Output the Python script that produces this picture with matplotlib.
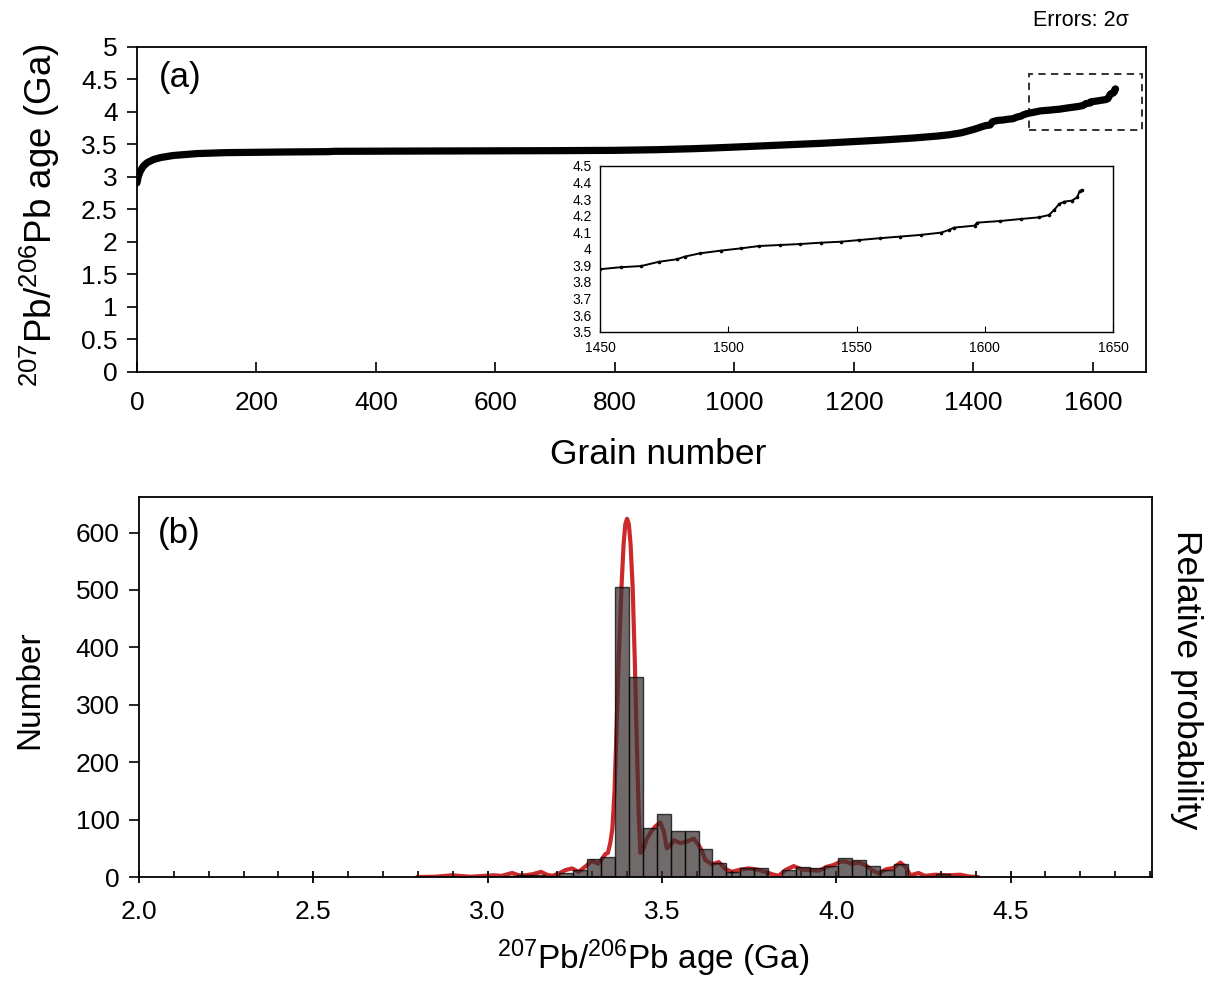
import matplotlib
matplotlib.use("Agg")
import matplotlib.pyplot as plt
from matplotlib.patches import Rectangle
from matplotlib.ticker import FuncFormatter, MultipleLocator

plt.rcParams['font.family'] = ['Liberation Sans', 'DejaVu Sans']
plt.rcParams['mathtext.fontset'] = 'custom'
plt.rcParams['mathtext.rm'] = 'Liberation Sans'
plt.rcParams['mathtext.it'] = 'Liberation Sans:italic'

# ---- (a) sorted grain ages (Ga) ----
grain_number = [0, 2, 5, 10, 17, 28, 40, 60, 80, 100, 150, 250, 320, 330, 500, 700, 800,
                870, 930, 960, 1000, 1050, 1100, 1150, 1200, 1250, 1300, 1340, 1360, 1380,
                1400, 1420, 1428, 1432, 1440,
                1450, 1458, 1466, 1473, 1480, 1483, 1489, 1497, 1505, 1512, 1520, 1528,
                1536, 1544, 1551, 1559, 1567, 1575, 1583, 1586, 1588, 1596, 1597, 1606,
                1614, 1621, 1625, 1627, 1629, 1631, 1634, 1636, 1637, 1638]
grain_age = [2.91, 3.00, 3.08, 3.16, 3.22, 3.27, 3.30, 3.33, 3.345, 3.36, 3.375, 3.385, 3.39,
             3.395, 3.40, 3.405, 3.41, 3.42, 3.435, 3.445, 3.46, 3.48, 3.50, 3.52, 3.545,
             3.57, 3.60, 3.63, 3.65, 3.68, 3.73, 3.79, 3.80, 3.85, 3.87,
             3.877, 3.889, 3.896, 3.922, 3.937, 3.953, 3.973, 3.989, 4.003, 4.017, 4.023,
             4.029, 4.037, 4.043, 4.053, 4.064, 4.074, 4.084, 4.098, 4.114, 4.128, 4.140,
             4.158, 4.168, 4.180, 4.190, 4.204, 4.234, 4.271, 4.285, 4.291, 4.311, 4.349,
             4.355]

# ---- (b) histogram ----
bin_edges = [3.045, 3.085, 3.125, 3.165, 3.205, 3.245, 3.285, 3.325, 3.365, 3.405, 3.445,
             3.485, 3.525, 3.565, 3.605, 3.645, 3.685, 3.725, 3.765, 3.805, 3.845, 3.885,
             3.925, 3.965, 4.005, 4.045, 4.085, 4.125, 4.165, 4.205, 4.245, 4.285, 4.325,
             4.365]
bin_counts = [2, 3, 3, 2, 7, 13, 31, 34, 505, 349, 85, 110, 81, 80, 49, 25, 9, 15, 15, 0,
              13, 17, 15, 19, 33, 30, 19, 13, 23, 1, 2, 5, 1]

# relative probability curve (scaled to Number axis)
prob_age = [2.80, 2.85, 2.898, 2.95, 3.017, 3.04, 3.07, 3.09, 3.108, 3.13, 3.153, 3.17,
            3.185, 3.204, 3.223, 3.242, 3.261, 3.28, 3.299, 3.318, 3.338, 3.345, 3.352,
            3.358, 3.364, 3.370, 3.376, 3.384, 3.390, 3.395, 3.400, 3.405, 3.410, 3.416,
            3.422, 3.428, 3.433, 3.438, 3.446, 3.457, 3.470, 3.481, 3.495, 3.505, 3.514,
            3.524, 3.534, 3.553, 3.572, 3.591, 3.605, 3.615, 3.624, 3.643, 3.663, 3.682,
            3.701, 3.725, 3.749, 3.773, 3.797, 3.815, 3.835, 3.854, 3.878, 3.902, 3.926,
            3.95, 3.974, 3.993, 4.012, 4.026, 4.045, 4.064, 4.083, 4.103, 4.122, 4.141,
            4.165, 4.184, 4.198, 4.213, 4.236, 4.255, 4.284, 4.322, 4.356, 4.38, 4.405]
prob_val = [0, 0.5, 3, 0.5, 3, 2, 7, 3, 3, 5, 9, 4, 2, 6, 12, 15, 9, 18, 28, 23, 40, 42,
            60, 85, 150, 260, 380, 505, 580, 615, 624, 615, 580, 505, 380, 230, 120, 42,
            48, 67, 80, 88, 95, 80, 50, 55, 64, 59, 62, 67, 56, 45, 30, 22, 26, 14, 9, 13,
            15, 13, 9, 5, 2, 12, 19, 13, 12, 11, 18, 21, 27, 27, 23, 25, 21, 12, 6, 13, 16,
            25, 18, 3, 7, 2, 4, 3, 4, 1, 0]

fmt_g = FuncFormatter(lambda v, p: f"{v:g}")

fig = plt.figure(figsize=(12.08, 9.81), dpi=100)

# ---------------- panel (a) ----------------
axa = fig.add_axes([0.1134, 0.6208, 0.8353, 0.3313])
axa.plot(grain_number, grain_age, color='black', lw=5.2, solid_capstyle='round',
         solid_joinstyle='round')
axa.set_xlim(0, 1689)
axa.set_ylim(0, 5)
axa.xaxis.set_major_locator(MultipleLocator(200))
axa.yaxis.set_major_locator(MultipleLocator(0.5))
axa.yaxis.set_major_formatter(fmt_g)
axa.tick_params(axis='x', direction='in', length=7, width=1.2, labelsize=19, pad=14)
axa.tick_params(axis='y', direction='out', length=7, width=1.2, labelsize=19, pad=7)
for s in axa.spines.values():
    s.set_linewidth(1.3)
axa.add_patch(Rectangle((1493, 3.72), 189, 0.86, fill=False, ls=(0, (4, 3)),
                        lw=1.3, edgecolor='#222222'))
axa.text(0.022, 0.905, '(a)', transform=axa.transAxes, fontsize=25, va='center', ha='left')

# inset
axi = fig.add_axes([0.4967, 0.6619, 0.4247, 0.1689])
axi.plot(grain_number, grain_age, color='black', lw=1.4, marker='o', ms=1.6)
axi.set_xlim(1450, 1650)
axi.set_ylim(3.5, 4.5)
axi.xaxis.set_major_locator(MultipleLocator(50))
axi.yaxis.set_major_locator(MultipleLocator(0.1))
axi.yaxis.set_major_formatter(fmt_g)
axi.tick_params(axis='x', direction='in', length=4, labelsize=10, pad=7)
axi.tick_params(axis='y', length=0, labelsize=10, pad=6)
for s in axi.spines.values():
    s.set_linewidth(1.0)

fig.text(1081 / 1208, 1 - 20 / 981, 'Errors: 2σ', fontsize=15.5, ha='center', va='center')
fig.text(40 / 1208, 1 - 215 / 981, r'$^{207}$Pb/$^{206}$Pb age (Ga)', fontsize=26.5,
         rotation=90, ha='center', va='center')
fig.text(658 / 1208, 1 - 455 / 981, 'Grain number', fontsize=25.5, ha='center', va='center')

# ---------------- panel (b) ----------------
axb = fig.add_axes([0.1151, 0.1060, 0.8386, 0.3874])
axb.plot(prob_age, prob_val, color='#cc2a2a', lw=3.0, zorder=1)
lefts = bin_edges[:-1]
widths = [b - a for a, b in zip(bin_edges[:-1], bin_edges[1:])]
axb.bar(lefts, bin_counts, width=widths, align='edge', facecolor='#3a3030', alpha=0.72,
        edgecolor='black', linewidth=1.0, zorder=2)
axb.set_xlim(2.0, 4.906)
axb.set_ylim(0, 662)
axb.xaxis.set_major_locator(MultipleLocator(0.5))
axb.xaxis.set_minor_locator(MultipleLocator(0.1))
axb.xaxis.set_major_formatter(FuncFormatter(lambda v, p: f"{v:.1f}"))
axb.yaxis.set_major_locator(MultipleLocator(100))
axb.tick_params(axis='x', which='major', direction='inout', length=9, width=1.3,
                labelsize=19, pad=12)
axb.tick_params(axis='x', which='minor', direction='in', length=4, width=1.2)
axb.tick_params(axis='y', direction='out', length=7, width=1.2, labelsize=19, pad=7)
for s in axb.spines.values():
    s.set_linewidth(1.3)
axb.text(0.019, 0.905, '(b)', transform=axb.transAxes, fontsize=25, va='center', ha='left')

fig.text(30 / 1208, 1 - 690 / 981, 'Number', fontsize=24, rotation=90,
         ha='center', va='center')
fig.text(1186 / 1208, 1 - 680 / 981, 'Relative probability', fontsize=25.5, rotation=270,
         ha='center', va='center')
fig.text(653 / 1208, 1 - 958 / 981, r'$^{207}$Pb/$^{206}$Pb age (Ga)', fontsize=24,
         ha='center', va='center')

fig.savefig('out.png', dpi=100)
